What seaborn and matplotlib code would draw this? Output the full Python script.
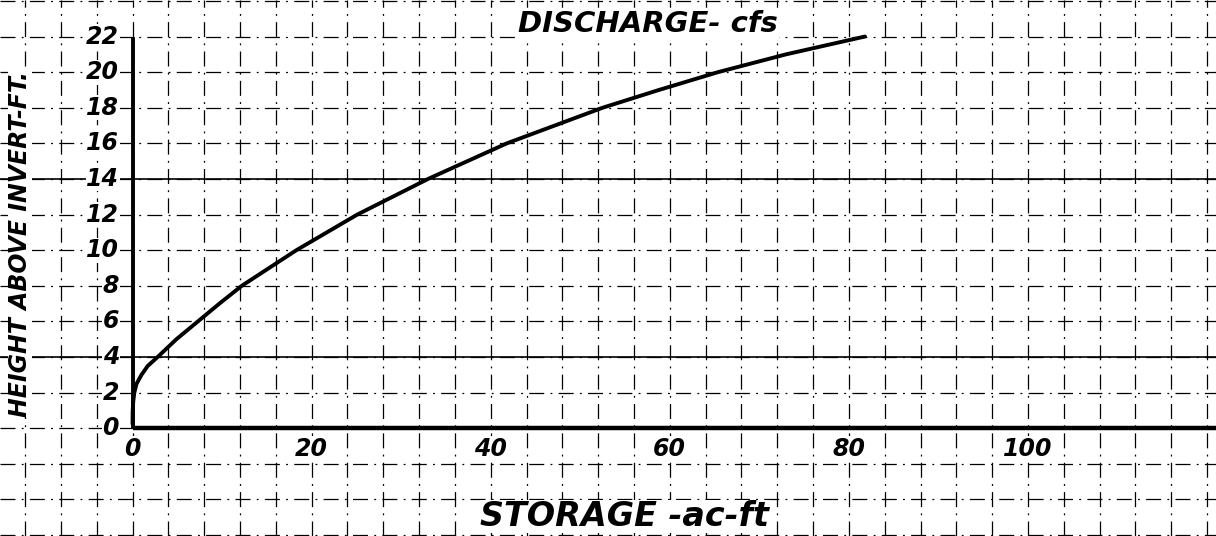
import matplotlib
matplotlib.use("Agg")
import matplotlib.pyplot as plt
import numpy as np
import seaborn as sns

# Data
height_ft = [0, 0.5, 1, 1.5, 2, 2.5, 3, 3.5, 4, 5, 6, 7, 8, 10, 12, 14, 16, 18, 19, 20, 21, 22]
storage_acft = [0, 0.0, 0.02, 0.08, 0.2, 0.45, 1.0, 1.7, 2.8, 4.9, 7.3, 9.7, 12.2, 18.3, 25.1,
                33.0, 41.8, 52.5, 58.8, 65.4, 73.0, 81.8]

y_ticks = [0, 2, 4, 6, 8, 10, 12, 14, 16, 18, 20, 22]
x_ticks = [0, 20, 40, 60, 80, 100]

sns.set_style("white")
plt.rcParams['font.family'] = ['DejaVu Sans']

fig = plt.figure(figsize=(12.16, 5.36), dpi=100)
ax = fig.add_axes([0, 0, 1, 1])

# graph paper grid
ax.set_xlim(-14.8, 121)
ax.set_ylim(-6.05, 24.05)
ax.set_xticks(np.arange(-12, 124, 4))
ax.set_yticks(np.arange(-6, 26, 2))
ax.tick_params(length=0, labelleft=False, labelbottom=False)
ax.grid(True, color='black', linewidth=0.9, linestyle=(0, (12, 5, 1.5, 5)))
for s in ax.spines.values():
    s.set_visible(False)

# heavier ruled lines
ax.axhline(4, color='black', lw=1.2, zorder=1)
ax.axhline(14, color='black', lw=1.2, zorder=1)

# axes of the plot
ax.hlines(0, 0, 121, color='black', lw=3.2, zorder=3)
ax.vlines(0, 0, 22, color='black', lw=2.8, zorder=3)

sns.lineplot(x=storage_acft, y=height_ft, sort=False, color='black', lw=2.8, ax=ax, zorder=4)

lab = dict(fontstyle='italic', fontweight='bold', color='black')
for v in y_ticks:
    ax.text(-1.5, v, str(v), ha='right', va='center', fontsize=17, zorder=5,
            bbox=dict(facecolor='white', edgecolor='none', pad=0.3), **lab)
for v in x_ticks:
    ax.text(v, -1.15, str(v), ha='center', va='center', fontsize=17, zorder=5,
            bbox=dict(facecolor='white', edgecolor='none', pad=0.3), **lab)

fig.text(648 / 1216, 1 - 24 / 536, 'DISCHARGE- cfs', ha='center', va='center', fontsize=21,
         bbox=dict(facecolor='white', edgecolor='none', pad=0.5), **lab)
fig.text(625 / 1216, 1 - 533 / 536, 'STORAGE -ac-ft', ha='center', va='bottom', fontsize=24,
         bbox=dict(facecolor='white', edgecolor='none', pad=0.2), **lab)
fig.text(20 / 1216, 1 - 244 / 536, 'HEIGHT ABOVE INVERT-FT.', ha='center', va='center',
         rotation=90, fontsize=17, bbox=dict(facecolor='white', edgecolor='none', pad=0.3), **lab)

fig.savefig('out.png', dpi=100)
